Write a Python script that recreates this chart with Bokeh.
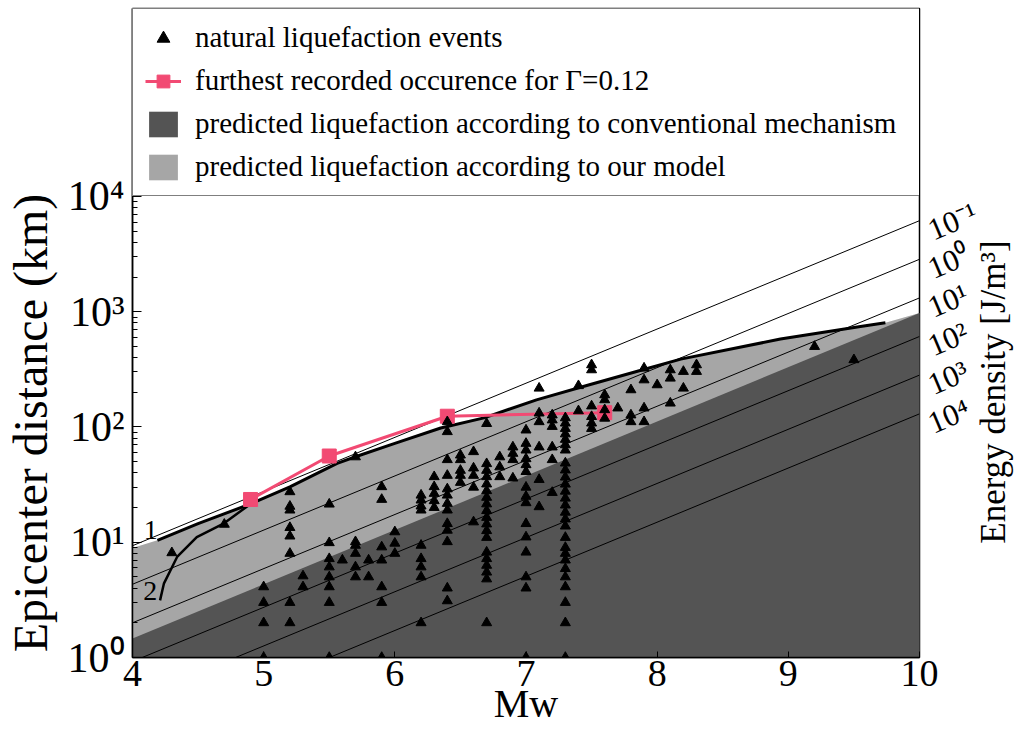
import math
from bokeh.plotting import figure
from bokeh.models import (FixedTicker, Label, Legend, LegendItem, CustomJSTickFormatter,
                          LogAxis, LogScale, Range1d)
from bokeh.embed import file_html
from bokeh.resources import INLINE

FONT = "Liberation Serif"
NBSP = "\u00a0"

# ---------------- data ----------------
event_mw = [4.3, 4.7,
            5.0, 5.0, 5.0, 5.0,
            5.2, 5.2, 5.2, 5.2, 5.2, 5.2, 5.2, 5.2,
            5.3, 5.3,
            5.5, 5.5, 5.5, 5.5, 5.5, 5.5, 5.5, 5.5,
            5.6,
            5.7, 5.7, 5.7, 5.7, 5.7, 5.7,
            5.8, 5.8,
            5.9, 5.9, 5.9, 5.9, 5.9, 5.9, 5.9,
            6.0, 6.0, 6.0,
            6.2, 6.2, 6.2, 6.2, 6.2, 6.2, 6.2, 6.2, 6.2,
            6.3, 6.3, 6.3, 6.3, 6.3,
            6.4, 6.4, 6.4, 6.4, 6.4, 6.4, 6.4, 6.4, 6.4, 6.4, 6.4, 6.4, 6.4,
            6.5, 6.5, 6.5, 6.5, 6.5,
            6.6, 6.6, 6.6, 6.6, 6.6,
            6.7, 6.7, 6.7, 6.7, 6.7, 6.7, 6.7, 6.7, 6.7, 6.7, 6.7, 6.7, 6.7, 6.7, 6.7, 6.7, 6.7, 6.7, 6.7,
            6.8, 6.8, 6.8,
            6.9, 6.9, 6.9, 6.9,
            7.0, 7.0, 7.0, 7.0, 7.0, 7.0, 7.0, 7.0, 7.0, 7.0, 7.0, 7.0, 7.0, 7.0, 7.0,
            7.1, 7.1, 7.1, 7.1, 7.1, 7.1,
            7.2, 7.2, 7.2, 7.2, 7.2, 7.2,
            7.3, 7.3, 7.3, 7.3, 7.3, 7.3, 7.3, 7.3, 7.3, 7.3, 7.3, 7.3, 7.3, 7.3,
            7.3, 7.3, 7.3, 7.3, 7.3, 7.3, 7.3, 7.3, 7.3, 7.3, 7.3, 7.3, 7.3,
            7.4, 7.4,
            7.5, 7.5, 7.5, 7.5, 7.5, 7.5,
            7.6, 7.6, 7.6, 7.6,
            7.7,
            7.8, 7.8, 7.8,
            7.9, 7.9, 7.9, 7.9,
            8.0,
            8.1, 8.1, 8.1,
            8.2, 8.2,
            8.3, 8.3,
            9.2, 9.5]
event_r = [8.1, 14.3,
           4.1, 3.0, 2.0, 1.0,
           27.4, 20.5, 19.0, 13.4, 11.3, 8.0, 3.0, 2.0,
           5.1, 4.1,
           21.4, 9.9, 7.2, 6.1, 5.0, 4.1, 3.0, 1.0,
           7.0,
           55, 10.1, 9.4, 8.0, 6.1, 5.0,
           7.0, 5.0,
           30.3, 23.5, 9.1, 7.0, 4.1, 3.0, 1.0,
           12.3, 9.8, 8.0,
           25.6, 23.2, 20.6, 19.0, 9.4, 7.2, 6.1, 5.0, 2.0,
           37, 30.3, 26.5, 22.9, 20.0,
           111, 91, 52, 38, 29, 25.6, 21.7, 19.0, 14.5, 12.7, 10.1, 4.0, 3.1,
           57, 52, 42, 38, 33,
           61, 44, 38, 30, 15,
           107, 48, 42, 37, 32, 28, 24.5, 21.5, 18.8, 16.4, 14.4, 12.6, 11.0, 8.2, 7.2, 6.3, 5.5, 4.8, 2.0,
           55, 45, 37,
           67, 59, 52, 36,
           94, 72, 63, 53, 47, 41, 30, 25, 22, 14.5, 11.1, 8.2, 5.0, 4.0, 1.0,
           217, 132, 111, 67, 35, 20.3,
           127, 115, 101, 67, 52, 27,
           120, 108, 97, 87, 78, 70, 63, 48.6, 42.3, 36.7, 31.9, 27.7, 24.1, 21.0,
           18.2, 15.9, 13.8, 11.0, 9.0, 8.0, 7.0, 5.9, 5.0, 4.1, 3.0, 2.0, 1.0,
           228, 138,
           346, 313, 152, 123, 108, 97,
           190, 172, 141, 119,
           146,
           210, 127, 111,
           324, 256, 146, 111,
           232,
           313, 265, 161,
           303, 217,
           346, 303,
           499, 383]

# furthest recorded occurrence for Gamma = 0.12
furthest_mw = [4.9, 5.5, 6.4, 7.6]
furthest_r = [23.5, 56, 124, 133]

# model curve 1 (upper bound of "our model")
curve1_mw = [4.19, 4.5, 4.9, 5.2, 5.56, 5.7, 6.0, 6.35, 6.68, 7.08, 7.49, 7.87, 8.18, 8.94, 9.55, 9.74]
curve1_r = [10.4, 14.5, 21.5, 30.2, 48.3, 55.2, 72, 98, 120, 172, 234, 309, 388, 579, 745, 802]

# model curve 2
curve2_mw = [4.21, 4.24, 4.34, 4.49, 4.69, 4.9]
curve2_r = [3.13, 4.4, 7.45, 11.1, 14.4, 21.5]

# shaded regions (upper boundaries)
light_top_mw = [4.0] + curve1_mw + [10.0]
light_top_r = [8.9] + curve1_r + [977]
dark_top_mw = [4.0, 10.0]
dark_top_r = [1.46, 977]

# iso energy-density lines: value labels and distances at Mw=4 and Mw=10
energy_labels = ["10\u207b\u00b9", "10\u2070", "10\u00b9", "10\u00b2", "10\u00b3", "10\u2074"]
energy_r_at4 = [9.33, 4.32, 2.0, 0.923, 0.427, 0.197]
energy_r_at10 = [6166, 2851, 1318, 610, 282, 130]

curve_labels = ["1", "2"]
curve_label_mw = [4.14, 4.135]
curve_label_r = [12.7, 3.75]

legend_labels = ["natural liquefaction events",
                 "furthest recorded occurence for \u0393=0.12",
                 "predicted liquefaction according to conventional mechanism",
                 "predicted liquefaction according to our model"]

x_ticks = [4, 5, 6, 7, 8, 9, 10]
y_ticks = [1, 10, 100, 1000, 10000]

DARK = "#545454"
LIGHT = "#a6a6a6"
PINK = "#f24a73"

# the frame reaches up under the legend box; 10^4 stays at the top of the data area
Y_TOP = 10 ** 5.631

# ---------------- figure ----------------
p = figure(frame_width=787, frame_height=649, x_range=(4, 10), y_range=(1, Y_TOP),
           y_axis_type="log", output_backend="svg", toolbar_location=None,
           min_border_left=132, min_border_right=94, min_border_top=8, min_border_bottom=75,
           background_fill_color="white", border_fill_color="white")
p.grid.visible = False
p.outline_line_color = "black"
p.outline_line_width = 1.5

light_r = p.varea(x=light_top_mw, y1=0.5, y2=light_top_r, fill_color=LIGHT)
dark_r = p.varea(x=dark_top_mw, y1=0.5, y2=dark_top_r, fill_color=DARK)

for r4, r10 in zip(energy_r_at4, energy_r_at10):
    p.line(x=[4, 10], y=[r4, r10], line_color="black", line_width=1)

p.line(x=curve1_mw, y=curve1_r, line_color="black", line_width=3)
p.line(x=curve2_mw, y=curve2_r, line_color="black", line_width=2.5)

pink_line = p.line(x=furthest_mw, y=furthest_r, line_color=PINK, line_width=3)
pink_sq = p.scatter(x=furthest_mw, y=furthest_r, marker="square", size=14,
                    fill_color=PINK, line_color=PINK)

tri = p.scatter(x=event_mw, y=event_r, marker="triangle", size=10,
                fill_color="black", line_color="black")

# ---------------- axes ----------------
p.xaxis.ticker = FixedTicker(ticks=x_ticks)
minor = [m * 10 ** k for k in range(0, 4) for m in range(2, 10)]
p.yaxis.ticker = FixedTicker(ticks=y_ticks, minor_ticks=minor)
p.yaxis.formatter = CustomJSTickFormatter(code="""
const sup = {'0':'\u2070','1':'\u00b9','2':'\u00b2','3':'\u00b3','4':'\u2074'};
const e = Math.round(Math.log10(tick));
return '10' + sup[String(e)];
""")
for ax in (p.xaxis[0], p.yaxis[0]):
    ax.axis_line_width = 1.5
    ax.major_tick_out = 0
    ax.minor_tick_out = 0
    ax.major_label_text_font = FONT
    ax.major_label_text_color = "black"
    ax.axis_label_text_font = FONT
    ax.axis_label_text_font_style = "normal"
    ax.axis_label_text_color = "black"
p.xaxis.major_tick_in = 6
p.xaxis.minor_tick_line_color = None
p.xaxis.major_label_text_font_size = "38px"
p.xaxis.major_label_standoff = 3
p.xaxis.axis_label = "Mw"
p.xaxis.axis_label_text_font_size = "40px"
p.xaxis.axis_label_standoff = -8

p.yaxis.major_tick_in = 9
p.yaxis.minor_tick_in = 5
p.yaxis.major_label_standoff = 8
p.yaxis.major_label_text_font_size = "42px"
# trailing no-break spaces keep the visible title centred on the data area (below the legend)
p.yaxis.axis_label = "Epicenter distance (km)" + NBSP * 15
p.yaxis.axis_label_text_font_size = "48px"
p.yaxis.axis_label_standoff = 8

# right axis: energy density labels (range shifted so labels sit just under the line ends)
p.extra_y_ranges = {"elab": Range1d(10 ** 0.09, Y_TOP * 10 ** 0.09)}
p.extra_y_scales = {"elab": LogScale()}
eax = LogAxis(y_range_name="elab", ticker=FixedTicker(ticks=energy_r_at10, minor_ticks=[]))
eax.formatter = CustomJSTickFormatter(args=dict(vals=energy_r_at10, labs=energy_labels), code="""
let best = 0;
for (let i = 1; i < vals.length; i++) {
  if (Math.abs(Math.log(vals[i]/tick)) < Math.abs(Math.log(vals[best]/tick))) best = i;
}
return labs[best];
""")
eax.axis_line_color = None
eax.major_tick_line_color = None
eax.minor_tick_line_color = None
eax.major_label_orientation = 0.40
eax.major_label_standoff = 4
eax.major_label_text_font = FONT
eax.major_label_text_font_size = "31px"
eax.major_label_text_color = "black"
eax.axis_label = NBSP * 13 + "Energy density [J/m\u00b3]"
eax.axis_label_text_font = FONT
eax.axis_label_text_font_size = "35px"
eax.axis_label_text_font_style = "normal"
eax.axis_label_text_color = "black"
eax.axis_label_standoff = 1
eax.axis_label_orientation = math.pi / 2
eax.axis_label_align = "start"
p.add_layout(eax, "right")

for lab, xm, yr in zip(curve_labels, curve_label_mw, curve_label_r):
    p.add_layout(Label(x=xm, y=yr, text=lab, text_font=FONT, text_font_size="28px",
                       text_align="center", text_baseline="middle", text_color="black"))

legend = Legend(items=[
    LegendItem(label=legend_labels[0], renderers=[tri]),
    LegendItem(label=legend_labels[1], renderers=[pink_line, pink_sq]),
    LegendItem(label=legend_labels[2], renderers=[dark_r]),
    LegendItem(label=legend_labels[3], renderers=[light_r]),
], location="top_left", glyph_width=36, glyph_height=32, label_standoff=14,
    label_width=713, padding=12, spacing=10, margin=0, label_text_font=FONT,
    label_text_font_size="29px", label_text_color="black", border_line_color="black",
    border_line_width=1.5, background_fill_color="white", background_fill_alpha=1.0)
p.add_layout(legend)

open("out.html", "w").write(file_html(p, INLINE))
